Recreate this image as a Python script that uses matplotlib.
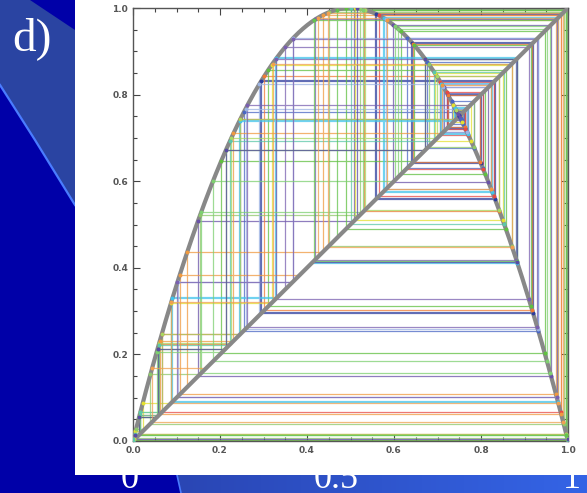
import numpy as np
import matplotlib.pyplot as plt
from matplotlib.patches import Polygon, Rectangle
from matplotlib.colors import LinearSegmentedColormap

# logistic map parameter and cobweb starting values
r = 4.0
starts = [0.7502, 0.7511, 0.7535, 0.7568, 0.7625, 0.7710, 0.7830, 0.8100,
          0.2450, 0.2900, 0.0600, 0.0150, 0.1250, 0.3500, 0.6100,
          0.4700, 0.5150, 0.4250]
steps = [14, 12, 12, 12, 11, 11, 10, 10, 10, 10, 10, 12, 10, 10, 10, 8, 8, 8]
colors = ['#2c3c9c', '#6a52a8', '#4a66c4', '#e4e030', '#f07a34', '#e84a44',
          '#8ec86a', '#60c040', '#40c4ec', '#9cb4e4', '#a8d860', '#5cc8a8',
          '#f09a40', '#7a60b0', '#7ed070', '#64c44c', '#5a4aa4', '#f0a050']
widths = [1.6, 0.9, 0.9, 0.9, 0.9, 0.9, 0.9, 0.9, 1.6, 0.9, 0.9, 0.9, 0.9,
          0.9, 0.9, 0.9, 0.9, 0.9]

x_ticks = [0.0, 0.2, 0.4, 0.6, 0.8, 1.0]
tick_labels = ['0.0', '0.2', '0.4', '0.6', '0.8', '1.0']
slide_labels = ['0', '0.5', '1']
slide_label_x = [130, 336, 572]


def f(x):
    return r * x * (1 - x)


def cobweb(x0, n):
    xs, ys = [x0], [x0]
    x = x0
    for _ in range(n):
        y = f(x)
        xs += [x, y]
        ys += [y, y]
        x = y
    return xs, ys


fig = plt.figure(figsize=(5.87, 4.93), dpi=100)
fig.patch.set_facecolor('#0000a8')

# slide background in pixel coordinates
bg = fig.add_axes([0, 0, 1, 1])
bg.set_xlim(0, 587)
bg.set_ylim(493, 0)
bg.axis('off')
bg.add_patch(Polygon([(0, 0), (30, 0), (75, 30), (75, 205), (0, 85)],
                     closed=True, color='#2a44a2', lw=0))
bg.plot([0, 35, 75], [85, 140, 205], color='#4a7cff', lw=1.6)
grad = LinearSegmentedColormap.from_list('g', ['#2a46b4', '#3464e6'])
bg.imshow(np.linspace(0, 1, 200).reshape(1, -1), cmap=grad, aspect='auto',
          extent=(178, 587, 493, 475), zorder=1)
bg.add_patch(Polygon([(0, 475), (177, 475), (181, 493), (0, 493)],
                     closed=True, color='#0000a8', lw=0, zorder=2))
bg.plot([177, 181], [475, 493], color='#4a7cff', lw=1.2, zorder=3)
for lab, px in zip(slide_labels, slide_label_x):
    bg.text(px, 488, lab, color='white', fontsize=26, family='Liberation Serif',
            ha='center', va='baseline', zorder=4)
bg.add_patch(Rectangle((75, 0), 512, 475, color='white', lw=0, zorder=5))
bg.text(12, 50, 'd)', color='white', fontsize=34, family='Liberation Serif',
        ha='left', va='baseline', zorder=6)

ax = fig.add_axes([133 / 587, 52 / 493, 435 / 587, 433 / 493])
ax.set_facecolor('none')

for x0, n, c, w in zip(starts, steps, colors, widths):
    xs, ys = cobweb(x0, n)
    ax.plot(xs, ys, color=c, lw=w, alpha=0.75, zorder=2)
    ax.plot(xs[1::2], ys[1::2], 'o', color=c, ms=1.8, zorder=4)

xx = np.linspace(0, 1, 400)
ax.plot(xx, f(xx), color='#888888', lw=3, zorder=3, solid_capstyle='round')
ax.plot([0, 1], [0, 1], color='#888888', lw=3, zorder=3, solid_capstyle='round')

ax.set_xlim(0, 1)
ax.set_ylim(0, 1)
ax.set_xticks(x_ticks)
ax.set_yticks(x_ticks)
ax.set_xticks(np.arange(0, 1.001, 0.05), minor=True)
ax.set_yticks(np.arange(0, 1.001, 0.05), minor=True)
ax.tick_params(which='both', direction='in', top=True, right=True,
               color='#444444', width=0.8, labelsize=6.5, labelcolor='#555555')
ax.tick_params(which='major', length=5)
ax.tick_params(which='minor', length=3)
ax.set_xticklabels(tick_labels, fontweight='bold')
ax.set_yticklabels(tick_labels, fontweight='bold')
for s in ax.spines.values():
    s.set_color('#555555')
    s.set_linewidth(1.0)

fig.savefig('out.png', dpi=100, facecolor=fig.get_facecolor())
